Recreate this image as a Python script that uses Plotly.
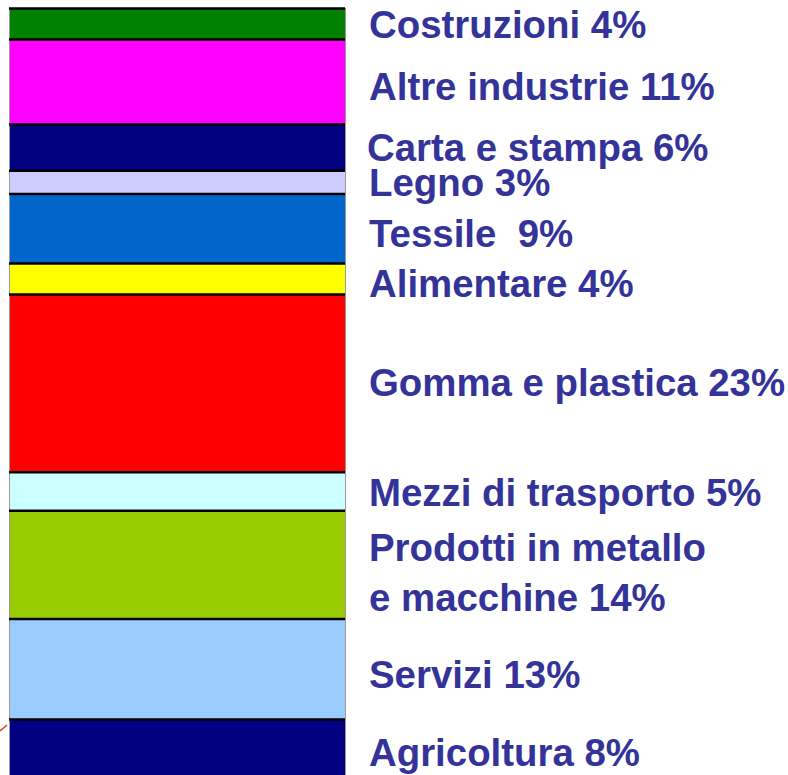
import plotly.graph_objects as go
import numpy as np

# Data (bottom to top)
sectors = ["Agricoltura", "Servizi", "Prodotti in metallo e macchine", "Mezzi di trasporto",
           "Gomma e plastica", "Alimentare", "Tessile", "Legno", "Carta e stampa",
           "Altre industrie", "Costruzioni"]
shares = [8, 13, 14, 5, 23, 4, 9, 3, 6, 11, 4]
labels = ["Agricoltura 8%", "Servizi 13%", "Prodotti in metallo<br>e macchine 14%",
          "Mezzi di trasporto 5%", "Gomma e plastica 23%", "Alimentare 4%",
          "Tessile\u00a0 9%", "Legno 3%", "Carta e stampa 6%", "Altre industrie 11%",
          "Costruzioni 4%"]
colors = ["#000080", "#99CCFF", "#99CC00", "#CCFFFF", "#FF0000", "#FFFF00",
          "#0066CC", "#CCCCFF", "#000080", "#FF00FF", "#008000"]
# label vertical centres (pixels from top of the window)
label_ypix = [752, 674, 572, 492, 382, 283, 233, 182, 148, 86, 25]
label_xpix = [370, 370, 370, 370, 370, 370, 370, 370, 368, 370, 370]

W, H = 788, 775
fig = go.Figure()
for name, v, c in zip(sectors, shares, colors):
    fig.add_trace(go.Bar(x=[0], y=[v], name=name, width=1,
                         marker=dict(color=c, line=dict(color="#9a9a9a", width=1)),
                         hoverinfo="skip"))

cum = np.cumsum(shares)
shapes = []
for b in cum:
    shapes.append(dict(type="line", xref="x", yref="y", x0=-0.5, x1=0.5, y0=b, y1=b,
                       line=dict(color="black", width=2.5), layer="above"))
# small red stroke at left edge
shapes.append(dict(type="line", xref="paper", yref="paper", x0=0.0, x1=7 / W,
                   y0=1 - 731 / H, y1=1 - 725 / H,
                   line=dict(color="#D04010", width=1.5)))

annotations = []
for t, yp, xp in zip(labels, label_ypix, label_xpix):
    annotations.append(dict(text=t, xref="paper", yref="paper", x=(xp - 3) / W,
                            y=1 - yp / H,
                            xanchor="left", yanchor="middle", showarrow=False, align="left",
                            font=dict(family="Liberation Sans, Arial, sans-serif", size=38.4,
                                      color="#333399", weight="bold")))

px_per_pct = 7.728
top_pix = 8.5
y_top = 100 + top_pix / px_per_pct
y_bot = y_top - H / px_per_pct
x_left = -0.5 - 9 / 336
x_right = x_left + W / 336

fig.update_layout(
    width=W, height=H, barmode="stack", showlegend=False,
    margin=dict(l=0, r=0, t=0, b=0),
    paper_bgcolor="white", plot_bgcolor="white",
    xaxis=dict(range=[x_left, x_right], visible=False, fixedrange=True),
    yaxis=dict(range=[y_bot, y_top], visible=False, fixedrange=True),
    shapes=shapes, annotations=annotations, bargap=0,
)
fig.write_html("out.html", config={"displayModeBar": False, "staticPlot": True},
               post_script="document.body.style.margin='0px';")
